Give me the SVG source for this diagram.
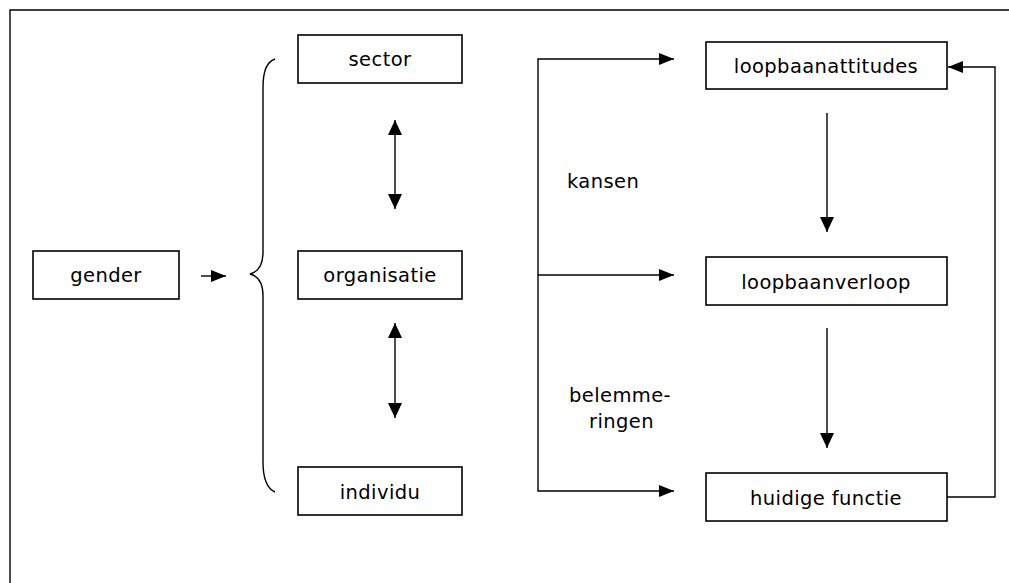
<svg xmlns="http://www.w3.org/2000/svg" width="1009" height="583" viewBox="0 0 1009 583">
<style>
.box{fill:#fff;stroke:#000;stroke-width:1.6}
.lbl{font-family:"DejaVu Sans",Verdana,sans-serif;font-size:19.5px;letter-spacing:0.4px;fill:#000;text-anchor:middle}
.lt{font-family:"DejaVu Sans",Verdana,sans-serif;font-size:19.5px;letter-spacing:0.4px;fill:#000}
.ln{fill:none;stroke:#000;stroke-width:1.4}
</style>
<defs>
<marker id="ah" markerUnits="userSpaceOnUse" markerWidth="16" markerHeight="16" viewBox="0 0 16 16" refX="15" refY="8" orient="auto-start-reverse">
<path d="M0,1 L15,8 L0,15 Z" fill="#000"/>
</marker>
<marker id="ahs" markerUnits="userSpaceOnUse" markerWidth="16" markerHeight="14" viewBox="0 0 16 14" refX="15" refY="7" orient="auto">
<path d="M0,1 L15,7 L0,13 Z" fill="#000"/>
</marker>
</defs>
<rect width="1009" height="583" fill="#fff"/>
<g id="frame">
<path class="ln" d="M10,583 L10,10 L1009,10" stroke-width="1.6"/>
</g>
<g id="node-gender"><rect class="box" x="33" y="251" width="146" height="48"/><text class="lbl" x="106" y="282">gender</text></g>
<g id="node-sector"><rect class="box" x="298" y="35" width="164" height="48"/><text class="lbl" x="380" y="66">sector</text></g>
<g id="node-organisatie"><rect class="box" x="298" y="251" width="164" height="48"/><text class="lbl" x="380" y="282">organisatie</text></g>
<g id="node-individu"><rect class="box" x="298" y="467" width="164" height="48"/><text class="lbl" x="380" y="499">individu</text></g>
<g id="node-loopbaanattitudes"><rect class="box" x="706" y="42" width="241" height="47"/><text class="lbl" x="826" y="73">loopbaanattitudes</text></g>
<g id="node-loopbaanverloop"><rect class="box" x="706" y="257" width="241" height="48"/><text class="lbl" x="826" y="289">loopbaanverloop</text></g>
<g id="node-huidige"><rect class="box" x="706" y="473" width="241" height="48"/><text class="lbl" x="826" y="505">huidige functie</text></g>
<g id="brace">
<path class="ln" d="M275,59 C267,62 263,70 263,88 L263,252 C263,265 258,272 250,274 C258,276 263,283 263,296 L263,462 C263,478 266,488 275,492"/>
</g>
<g id="labels">
<text class="lt" x="567" y="188">kansen</text>
<text class="lt" x="569" y="402">belemme-</text>
<text class="lt" x="589" y="428">ringen</text>
</g>
<g id="connectors">
<line class="ln" x1="201" y1="276" x2="226" y2="276" marker-end="url(#ahs)"/>
<line class="ln" x1="395" y1="120" x2="395" y2="209" marker-start="url(#ah)" marker-end="url(#ah)"/>
<line class="ln" x1="395" y1="323" x2="395" y2="418" marker-start="url(#ah)" marker-end="url(#ah)"/>
<path class="ln" d="M538,275 L538,59 L674,59" marker-end="url(#ahs)"/>
<path class="ln" d="M538,275 L538,491 L674,491" marker-end="url(#ahs)"/>
<line class="ln" x1="538" y1="275" x2="674" y2="275" marker-end="url(#ahs)"/>
<line class="ln" x1="827" y1="113" x2="827" y2="232" marker-end="url(#ah)"/>
<line class="ln" x1="827" y1="328" x2="827" y2="448" marker-end="url(#ah)"/>
<path class="ln" d="M947,497 L995,497 L995,67 L948,67" marker-end="url(#ahs)"/>
</g>
</svg>
